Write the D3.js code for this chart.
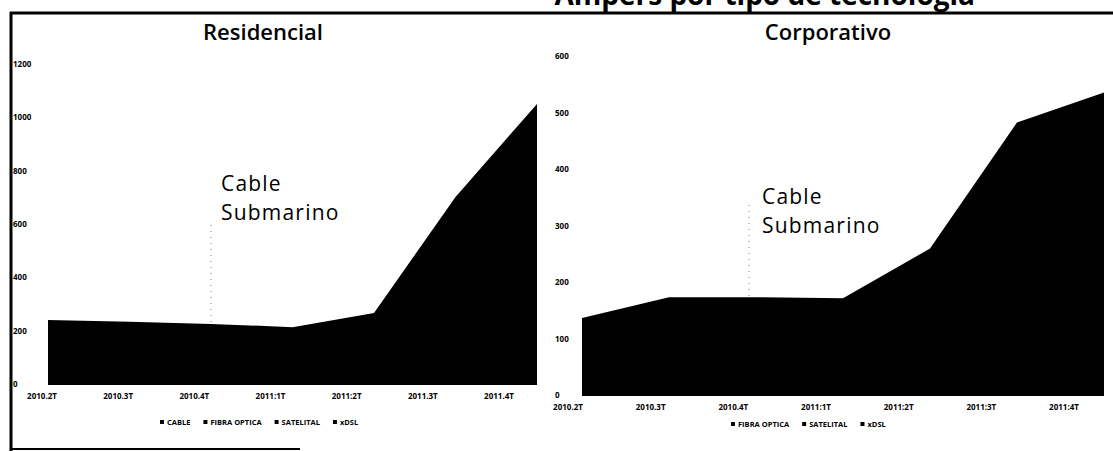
<!DOCTYPE html>
<html>
  <head>
    <meta charset="utf-8">
    <title>Por tipo de tecnología</title>
    <style>
      body { margin: 0; padding: 0; background: #fff; }
      svg { display: block; font-family: "Open Sans", "DejaVu Sans", sans-serif; }
      .tick-lbl { font-size: 8px; font-weight: 700; fill: #000; }
      .leg { font-size: 7.5px; font-weight: 700; fill: #000; }
      .panel-title { font-size: 22px; font-weight: 600; fill: #000; }
      .note { font-size: 21px; font-weight: 500; fill: #000; letter-spacing: 1.2px; }
    </style>
  </head>
  <body>
    <svg width="1113" height="451"></svg>
    <script src="https://d3js.org/d3.v7.min.js"></script>
    <script>
      // Data
      var quartersRes = ["2010.2T", "2010.3T", "2010.4T", "2011:1T", "2011:2T", "2011.3T", "2011.4T"];
      var quartersCorp = ["2010.2T", "2010.3T", "2010.4T", "2011:1T", "2011:2T", "2011:3T", "2011:4T"];
      var residencial = [244, 237, 229, 217, 270, 705, 1054];
      var corporativo = [138, 175, 175, 173, 261, 484, 537];
      var ticksRes = [0, 200, 400, 600, 800, 1000, 1200];
      var ticksCorp = [0, 100, 200, 300, 400, 500, 600];
      var legendRes = ["CABLE", "FIBRA OPTICA", "SATELITAL", "xDSL"];
      var legendCorp = ["FIBRA OPTICA", "SATELITAL", "xDSL"];

      var svg = d3.select("svg");

      // Slide frame (scanned, title cut at the top like the source)
      svg.append("text")
        .attr("x", 975).attr("y", 5)
        .attr("text-anchor", "end")
        .attr("font-size", 28).attr("font-weight", 700)
        .text("Ampers por tipo de tecnología");
      svg.append("line").attr("x1", 10).attr("x2", 1113).attr("y1", 13).attr("y2", 13)
        .attr("stroke", "#000").attr("stroke-width", 3);
      svg.append("line").attr("x1", 11).attr("x2", 11).attr("y1", 12).attr("y2", 451)
        .attr("stroke", "#000").attr("stroke-width", 3);
      svg.append("line").attr("x1", 10).attr("x2", 300).attr("y1", 449).attr("y2", 449)
        .attr("stroke", "#000").attr("stroke-width", 2);

      function panel(cfg) {
        var x = d3.scalePoint().domain(cfg.cats).range(cfg.xr);
        var xl = d3.scalePoint().domain(cfg.cats).range(cfg.labelr);
        var y = d3.scaleLinear().domain([0, cfg.max]).range(cfg.yr);
        var g = svg.append("g");

        var area = d3.area()
          .x(function(d, i) { return x(cfg.cats[i]); })
          .y0(y(0))
          .y1(function(d) { return y(d); });
        g.append("path").datum(cfg.values).attr("d", area).attr("fill", "#000");

        g.append("g").selectAll("text").data(cfg.ticks).enter().append("text")
          .attr("class", "tick-lbl")
          .attr("x", cfg.tickX)
          .attr("y", function(d) { return y(d) + 2; })
          .text(function(d) { return d; });

        g.append("g").selectAll("text").data(cfg.cats).enter().append("text")
          .attr("class", "tick-lbl")
          .attr("text-anchor", "middle")
          .attr("x", function(d) { return xl(d); })
          .attr("y", cfg.labelY)
          .text(function(d) { return d; });

        g.append("text").attr("class", "panel-title")
          .attr("text-anchor", "middle")
          .attr("x", cfg.titleX).attr("y", 40)
          .text(cfg.title);

        // annotation: cable submarino
        var xm = x(cfg.cats[2]) + cfg.markOff;
        g.append("line")
          .attr("x1", xm).attr("x2", xm)
          .attr("y1", cfg.dotTop).attr("y2", y(cfg.values[2]))
          .attr("stroke", "#555").attr("stroke-width", 0.8)
          .attr("stroke-dasharray", "1 5");
        g.append("text").attr("class", "note")
          .attr("x", cfg.noteX).attr("y", cfg.noteY).text("Cable");
        g.append("text").attr("class", "note")
          .attr("x", cfg.noteX).attr("y", cfg.noteY + 29).text("Submarino");

        // legend
        var leg = g.append("g").attr("transform", "translate(" + cfg.legX + "," + cfg.legY + ")");
        var off = 0;
        cfg.legend.forEach(function(name) {
          leg.append("rect").attr("x", off).attr("y", -5).attr("width", 4).attr("height", 4).attr("fill", "#000");
          var t = leg.append("text").attr("class", "leg").attr("x", off + 7).attr("y", 0).text(name);
          off += t.node().getComputedTextLength() + 20;
        });
      }

      panel({
        title: "Residencial", titleX: 263,
        cats: quartersRes, values: residencial, ticks: ticksRes, max: 1200,
        xr: [48, 537], yr: [385, 65], labelr: [42, 499], labelY: 399, tickX: 13,
        markOff: 0, dotTop: 225, noteX: 221, noteY: 191,
        legend: legendRes, legX: 160, legY: 425
      });

      panel({
        title: "Corporativo", titleX: 828,
        cats: quartersCorp, values: corporativo, ticks: ticksCorp, max: 600,
        xr: [582, 1104], yr: [396, 57], labelr: [568, 1064], labelY: 410, tickX: 555,
        markOff: -7, dotTop: 205, noteX: 762, noteY: 204,
        legend: legendCorp, legX: 731, legY: 427
      });
    </script>
  </body>
</html>
